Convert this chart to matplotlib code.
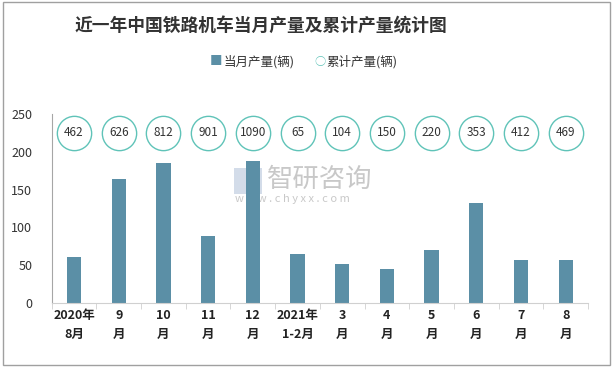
import matplotlib.pyplot as plt
import numpy as np

plt.rcParams['font.family'] = ['Noto Sans CJK SC', 'DejaVu Sans']

# 数据
months = ['2020年\n8月', '9\n月', '10\n月', '11\n月', '12\n月', '2021年\n1-2月',
          '3\n月', '4\n月', '5\n月', '6\n月', '7\n月', '8\n月']
monthly = [61, 164, 185, 88, 188, 65, 51, 45, 70, 132, 57, 57]
cumulative = [462, 626, 812, 901, 1090, 65, 104, 150, 220, 353, 412, 469]

bar_color = '#5B8FA6'
ring_color = '#5FC3B8'

fig = plt.figure(figsize=(6.13, 3.69), dpi=100)
ax = fig.add_axes([0.0843, 0.179, 0.875, 0.512])
ax.patch.set_visible(False)

x = np.arange(len(months))
ax.bar(x, monthly, width=0.32, color=bar_color, zorder=2)

# 累计产量：圆圈 + 数字
ax.scatter(x, [225] * len(x), s=610, facecolors='white', edgecolors=ring_color,
           linewidths=1.0, zorder=3, clip_on=False)
for xi, v in zip(x, cumulative):
    ax.text(xi, 225, str(v), ha='center', va='center', fontsize=8.5,
            color='#333333', zorder=4)

ax.set_xlim(-0.5, len(months) - 0.5)
ax.set_ylim(0, 250)
ax.set_yticks([0, 50, 100, 150, 200, 250])
ax.tick_params(axis='y', length=0, labelsize=9, colors='#333333', pad=14)

ax.set_xticks(x)
ax.set_xticklabels(months, fontsize=9, fontweight='bold', color='#222222',
                   linespacing=1.6)
ax.tick_params(axis='x', length=0, pad=4)
ax.set_xticks(np.arange(-0.5, len(months)), minor=True)
ax.tick_params(axis='x', which='minor', length=4, color='#D0D0D0')

for s in ['top', 'right']:
    ax.spines[s].set_visible(False)
ax.spines['left'].set_color('#A6A6A6')
ax.spines['bottom'].set_color('#D0D0D0')

# 标题
fig.text(0.426, 0.927, '近一年中国铁路机车当月产量及累计产量统计图', ha='center',
         va='center', fontsize=12.8, fontweight='bold', color='#333333')

# 图例
fig.text(0.352, 0.832, '■', ha='center', va='center', fontsize=9, color=bar_color)
fig.text(0.365, 0.832, '当月产量(辆)', ha='left', va='center', fontsize=9, color='#333333')
fig.text(0.522, 0.832, '○', ha='center', va='center', fontsize=8, color=ring_color)
fig.text(0.532, 0.832, '累计产量(辆)', ha='left', va='center', fontsize=9, color='#333333')

# 水印（在柱子后面）
wm = plt.Rectangle((0.382, 0.475), 0.045, 0.07, transform=fig.transFigure,
                   facecolor='#C8D4E4', edgecolor='none', alpha=0.8, zorder=-1)
fig.patches.append(wm)
fig.text(0.435, 0.515, '智研咨询', ha='left', va='center', fontsize=19,
         color='#BBBBBB', alpha=0.8, zorder=-1)
fig.text(0.384, 0.462, 'w w w . c h y x x . c o m', ha='left', va='center',
         fontsize=8, color='#BBBBBB', alpha=0.8, zorder=-1)

# 外框
fig.patches.append(plt.Rectangle((0.005, 0.01), 0.99, 0.985, transform=fig.transFigure,
                                 fill=False, edgecolor='#A0A0A0', linewidth=1))

fig.savefig('out.png', dpi=100, facecolor='white')
